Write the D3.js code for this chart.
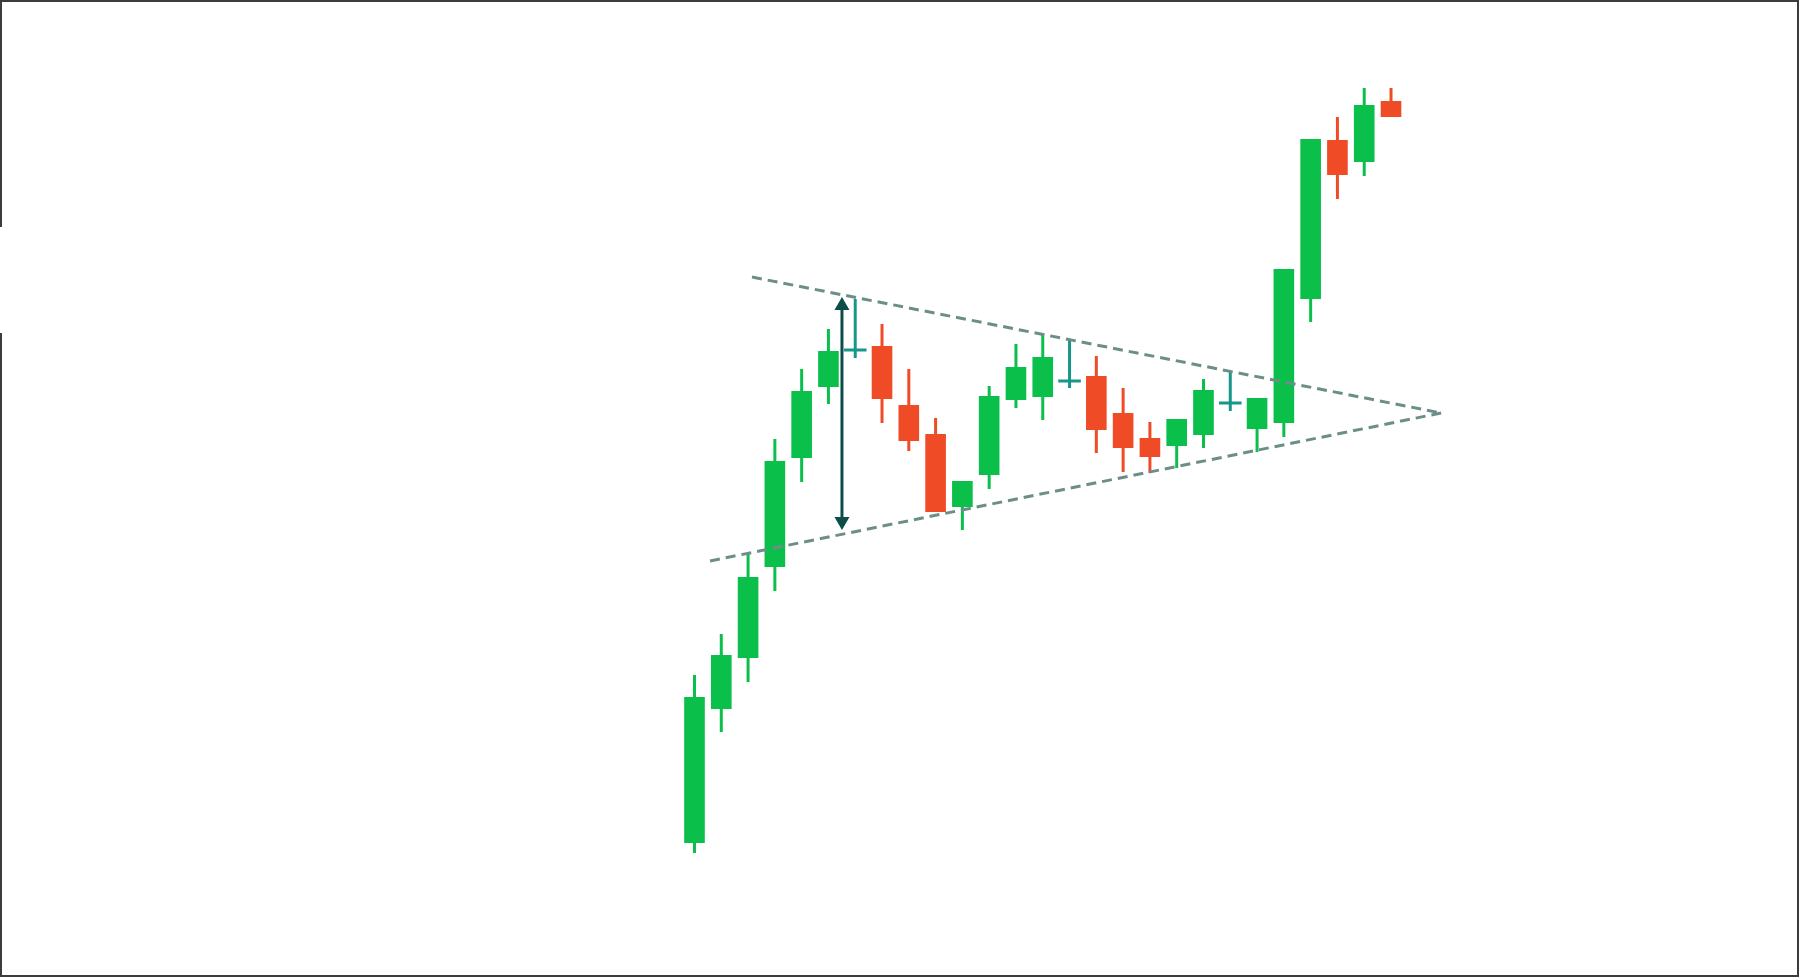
<!DOCTYPE html>
<html>
<head>
<meta charset="utf-8">
<script src="https://cdn.jsdelivr.net/npm/d3@7"></script>
<style>
  html, body { margin: 0; padding: 0; background: #ffffff; }
  svg { display: block; }
</style>
</head>
<body>
<svg id="chart" width="1800" height="977"></svg>
<script>
// ---- Data (prices) ----
const candleIndex = d3.range(27);
const opens  = [15.7, 29.1, 34.2, 43.3, 54.2, 61.3, 65.0, 65.4, 59.5, 56.6, 49.3, 52.5, 60.0, 60.3, 61.9, 62.4, 58.7, 56.2, 55.4, 56.5, 59.7, 57.1, 57.7, 70.1, 86.0, 83.8, 89.9];
const closes = [30.3, 34.5, 42.3, 53.9, 60.9, 64.9, 65.0, 60.1, 55.9, 48.8, 51.9, 60.4, 63.3, 64.3, 61.9, 57.0, 55.2, 54.3, 58.1, 61.0, 59.7, 60.2, 73.1, 86.1, 82.5, 89.5, 88.3];
const highs  = [32.5, 36.6, 44.7, 56.1, 63.1, 67.1, 70.1, 67.6, 63.1, 58.2, 51.9, 61.4, 65.6, 66.6, 66.1, 64.4, 61.2, 57.8, 58.1, 62.1, 62.9, 60.2, 73.1, 86.1, 88.3, 91.2, 91.2];
const lows   = [14.7, 26.8, 31.8, 40.9, 51.8, 59.6, 64.2, 57.7, 54.9, 48.8, 47.0, 51.1, 59.2, 58.0, 61.2, 54.7, 52.8, 52.7, 53.2, 55.2, 58.9, 54.8, 56.3, 67.8, 80.1, 82.4, 88.3];

// Triangle trend lines: [index position, price]
const upperTrend = [[2.146, 72.3], [27.87, 58.7]];
const lowerTrend = [[0.58, 43.9], [27.87, 58.7]];
// Measured height arrow: [index position, top price, bottom price]
const heightArrow = [5.505, 70.3, 47.0];

// ---- Styles ----
const GREEN = "#0bbf4b", RED = "#f04b27", DOJI = "#17968b", ARROW = "#0d4d49", DASH = "#6c8e88";

const svg = d3.select("#chart");

// ---- Scales ----
const x = d3.scaleBand().domain(candleIndex).range([681.1, 1404.4]).paddingInner(0.23).paddingOuter(0.115);
const bw = x.bandwidth();
const xc = d3.scaleLinear().domain([0, candleIndex.length - 1])
  .range([x(0) + bw / 2, x(candleIndex.length - 1) + bw / 2]);
const y = d3.scaleLinear().domain([0, 100]).range([1000, 0]);

const candles = candleIndex.map(i => ({
  i, o: opens[i], c: closes[i], h: highs[i], l: lows[i],
  type: opens[i] === closes[i] ? "doji" : (closes[i] > opens[i] ? "up" : "down")
}));
const colorOf = d => d.type === "doji" ? DOJI : (d.type === "up" ? GREEN : RED);

// ---- Frame ----
const frame = svg.append("g").attr("fill", "none").attr("stroke", "#3c3c3c").attr("stroke-width", 2);
frame.append("path").attr("d", "M1,227 L1,1 L1798,1 L1798,976 L1,976 L1,333");

// ---- Candles ----
const g = svg.append("g");
g.selectAll("line.wick").data(candles).join("line")
  .attr("class", "wick")
  .attr("x1", d => xc(d.i)).attr("x2", d => xc(d.i))
  .attr("y1", d => y(d.h)).attr("y2", d => y(d.l))
  .attr("stroke", colorOf).attr("stroke-width", 3);

g.selectAll("rect.body").data(candles.filter(d => d.type !== "doji")).join("rect")
  .attr("class", "body")
  .attr("x", d => x(d.i))
  .attr("width", bw)
  .attr("y", d => y(Math.max(d.o, d.c)))
  .attr("height", d => Math.abs(y(d.o) - y(d.c)))
  .attr("fill", colorOf);

g.selectAll("line.dojibar").data(candles.filter(d => d.type === "doji")).join("line")
  .attr("class", "dojibar")
  .attr("x1", d => x(d.i) - 1).attr("x2", d => x(d.i) + bw + 1)
  .attr("y1", d => y(d.o)).attr("y2", d => y(d.o))
  .attr("stroke", DOJI).attr("stroke-width", 3);

// ---- Trend lines ----
const line = d3.line().x(d => xc(d[0])).y(d => y(d[1]));
[upperTrend, lowerTrend].forEach(t => {
  svg.append("path").attr("d", line(t))
    .attr("fill", "none").attr("stroke", DASH)
    .attr("stroke-width", 3).attr("stroke-dasharray", "10,6");
});

// ---- Height arrow ----
const ax = xc(heightArrow[0]);
const yTop = y(heightArrow[1]), yBot = y(heightArrow[2]);
const headH = 13, headW = 7.5;
svg.append("line")
  .attr("x1", ax).attr("x2", ax)
  .attr("y1", yTop + headH - 1).attr("y2", yBot - headH + 1)
  .attr("stroke", ARROW).attr("stroke-width", 3);
svg.append("path")
  .attr("d", `M${ax},${yTop} L${ax + headW},${yTop + headH} L${ax - headW},${yTop + headH} Z`)
  .attr("fill", ARROW);
svg.append("path")
  .attr("d", `M${ax},${yBot} L${ax + headW},${yBot - headH} L${ax - headW},${yBot - headH} Z`)
  .attr("fill", ARROW);
</script>
</body>
</html>
